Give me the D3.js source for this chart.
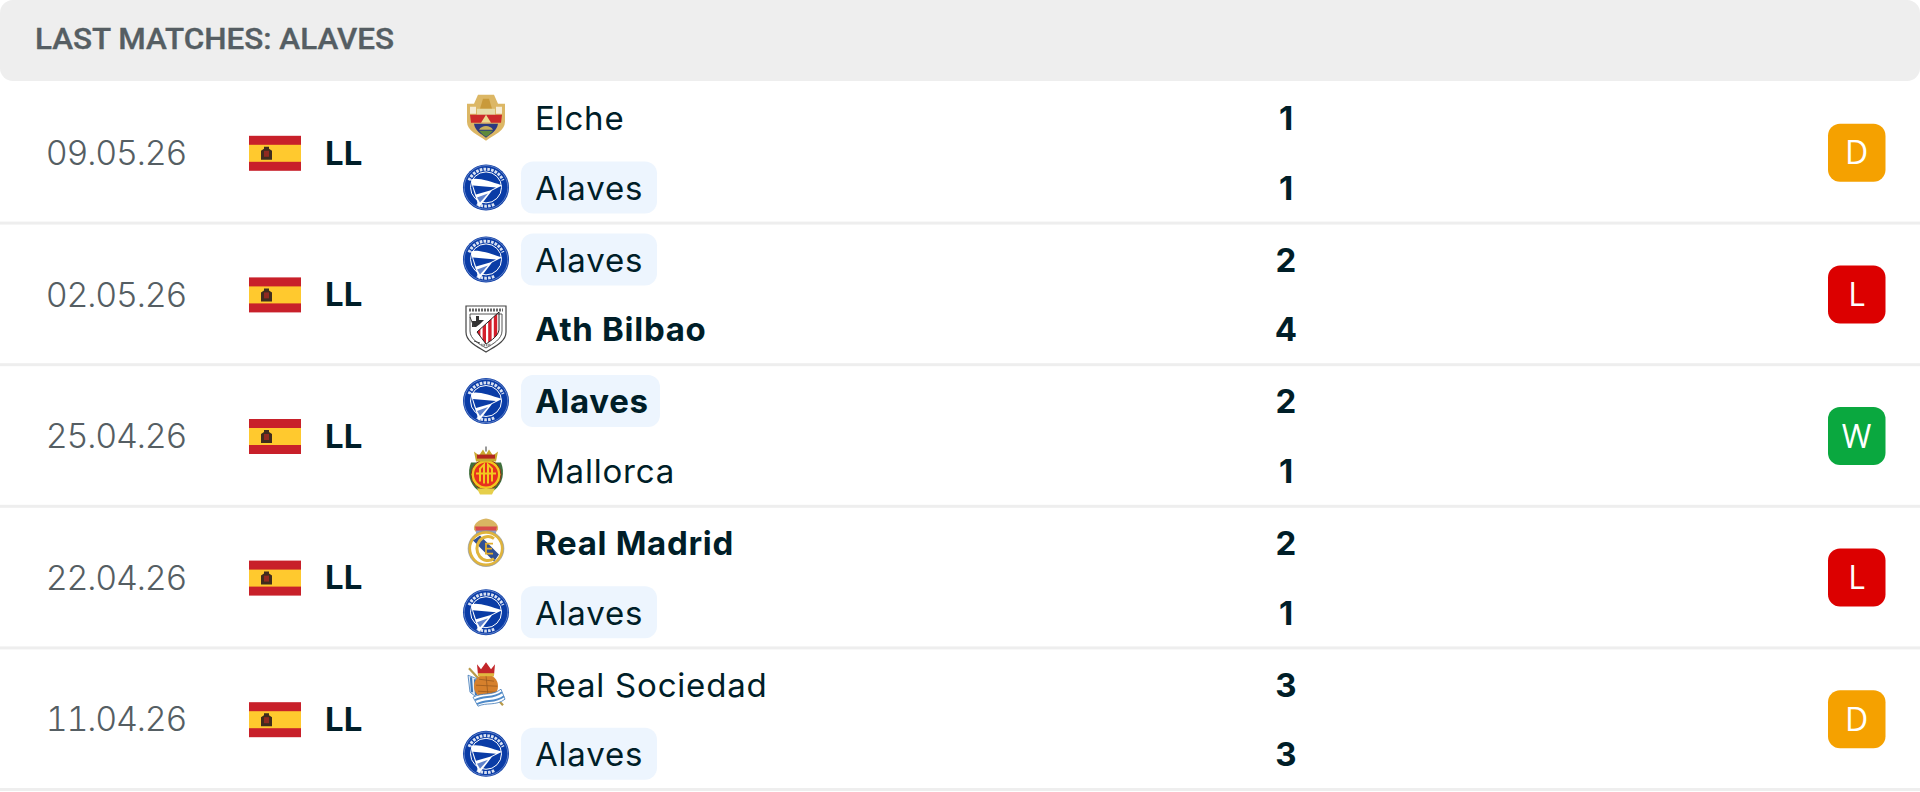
<!DOCTYPE html>
<html>
<head>
<meta charset="utf-8">
<script src="https://cdn.jsdelivr.net/npm/d3@7"></script>
<style>
  html, body { margin: 0; padding: 0; background: #fff; }
  svg { display: block; }
  text { font-family: Inter, sans-serif; }
</style>
</head>
<body>
<div id="chart"></div>
<script>
const title = "LAST MATCHES: ALAVES";
const dates = ["09.05.26", "02.05.26", "25.04.26", "22.04.26", "11.04.26"];
const leagues = ["LL", "LL", "LL", "LL", "LL"];
const homeTeams = ["Elche", "Alaves", "Alaves", "Real Madrid", "Real Sociedad"];
const awayTeams = ["Alaves", "Ath Bilbao", "Mallorca", "Alaves", "Alaves"];
const homeGoals = [1, 2, 2, 2, 3];
const awayGoals = [1, 4, 1, 1, 3];
const results = ["D", "L", "W", "L", "D"];
const focusTeam = "Alaves";

const width = 1920;
const height = 792;
const resultColor = d3.scaleOrdinal(["D", "L", "W"], ["#f5a100", "#dc0000", "#0aa83f"]);
const rowScale = d3.scaleBand().domain(d3.range(dates.length)).range([82, 790]);
const sideScale = d3.scalePoint().domain([0, 1]).range([-35, 34.6]);

const crests = {
  Alaves: drawAlaves,
  Elche: drawElche,
  "Ath Bilbao": drawBilbao,
  Mallorca: drawMallorca,
  "Real Madrid": drawMadrid,
  "Real Sociedad": drawSociedad,
};

const svg = d3
  .select("#chart")
  .append("svg")
  .attr("width", width)
  .attr("height", height)
  .attr("viewBox", [0, 0, width, height]);

// header bar
svg.append("rect").attr("x", 0).attr("y", 0).attr("width", width).attr("height", 81).attr("rx", 13).attr("fill", "#eeeeee");
svg
  .append("text")
  .attr("x", 35)
  .attr("y", 39)
  .attr("dy", "0.36em")
  .attr("fill", "#555e63")
  .attr("stroke", "#555e63")
  .attr("stroke-width", 0.35)
  .attr("font-size", 29)
  .attr("font-weight", 500)
  .attr("textLength", 359)
  .attr("lengthAdjust", "spacingAndGlyphs")
  .style("font-family", "Roboto, sans-serif")
  .text(title);

const rows = svg
  .selectAll("g.row")
  .data(d3.range(dates.length))
  .join("g")
  .attr("class", "row")
  .attr("transform", (i) => `translate(0,${rowScale(i) + rowScale.bandwidth() / 2})`);

rows
  .append("rect")
  .attr("x", 0)
  .attr("y", rowScale.bandwidth() / 2 - 2)
  .attr("width", width)
  .attr("height", 3)
  .attr("fill", "#eeeeee");

rows
  .append("text")
  .attr("x", 116)
  .attr("dy", "0.36em")
  .attr("text-anchor", "middle")
  .attr("fill", "#555e63")
  .attr("font-size", 34)
  .attr("font-weight", 300)
  .attr("letter-spacing", -1.2)
  .style("font-variant-numeric", "tabular-nums")
  .text((i) => dates[i]);

rows.append("g").attr("transform", "translate(249,-17)").each(function () {
  drawSpain(d3.select(this));
});

rows
  .append("text")
  .attr("x", 325)
  .attr("dy", "0.36em")
  .attr("fill", "#001e28")
  .attr("font-size", 33)
  .attr("font-weight", 700)
  .text((i) => leagues[i]);

rows
  .append("g")
  .attr("transform", "translate(1828,-29)")
  .call((g) => g.append("rect").attr("width", 57.5).attr("height", 58).attr("rx", 12).attr("fill", (i) => resultColor(results[i])))
  .call((g) =>
    g
      .append("text")
      .attr("x", 28.5)
      .attr("y", 29)
      .attr("dy", "0.36em")
      .attr("text-anchor", "middle")
      .attr("fill", "#fff")
      .attr("font-size", 32)
      .style("font-family", "'Open Sans', sans-serif")
      .text((i) => results[i])
  );

// the two team lines of each match
const lines = rows
  .selectAll("g.team")
  .data((i) => [
    { team: homeTeams[i], goals: homeGoals[i], rival: awayGoals[i], side: 0 },
    { team: awayTeams[i], goals: awayGoals[i], rival: homeGoals[i], side: 1 },
  ])
  .join("g")
  .attr("class", "team")
  .attr("transform", (d) => `translate(0,${sideScale(d.side)})`);

lines.each(function (d) {
  const g = d3.select(this);
  const bold = d.goals > d.rival;
  if (d.team === focusTeam) {
    g.append("rect")
      .attr("x", 521)
      .attr("y", -26)
      .attr("width", bold ? 139 : 136)
      .attr("height", 52)
      .attr("rx", 12)
      .attr("fill", "#edf5fe");
  }
  crests[d.team](g.append("g").attr("transform", "translate(486,0)"));
  g.append("text")
    .attr("x", 535)
    .attr("y", 0.5)
    .attr("dy", "0.36em")
    .attr("fill", "#001e28")
    .attr("font-size", 33)
    .attr("font-weight", bold ? 700 : 400)
    .attr("letter-spacing", bold ? 0.7 : 0.8)
    .text(d.team);
  g.append("text")
    .attr("x", 1286)
    .attr("y", 0.5)
    .attr("dy", "0.36em")
    .attr("text-anchor", "middle")
    .attr("fill", "#001e28")
    .attr("font-size", 33)
    .attr("font-weight", 700)
    .text(d.goals);
});

function drawSpain(g) {
  g.append("rect").attr("width", 52).attr("height", 35).attr("fill", "#c8202a");
  g.append("rect").attr("y", 9).attr("width", 52).attr("height", 17).attr("fill", "#ffc92e");
  g.append("path").attr("d", "M12,15 L15,13 L15,11 L20,11 L20,13 L23,15 L23,24 L12,24 Z").attr("fill", "#3f2c1e");
  g.append("rect").attr("x", 15).attr("y", 15).attr("width", 5).attr("height", 6).attr("fill", "#8f2a20");
}

function drawAlaves(g) {
  g.append("circle").attr("r", 23).attr("fill", "#0a3ca6");
  g.append("circle").attr("r", 21.8).attr("fill", "none").attr("stroke", "#aebfe6").attr("stroke-width", 0.5);
  g.append("circle").attr("r", 15.5).attr("fill", "#0a3ca6").attr("stroke", "#fff").attr("stroke-width", 1);
  g.append("path").attr("d", "M-15,-8 C-8,-10 4,-6 16,-2 L6,3 L-7,20 C-10,10 -14,0 -15,-8 Z").attr("fill", "#fff");
  g.append("path").attr("d", "M-13,-2 L10,0 L4,3 L-10,7 Z").attr("fill", "#0a3ca6");
  g.append("path").attr("d", "M-9,10 L2,6 L-6,15 Z").attr("fill", "#5f82cc");
  g.append("path").attr("d", "M-17,-7 A18.5,18.5 0 0 1 17,-7").attr("fill", "none").attr("stroke", "#fff").attr("stroke-width", 3).attr("stroke-dasharray", "2.6 1.2").attr("opacity", 0.85);
  g.append("path").attr("d", "M-9,16.5 A19,19 0 0 0 9,16.5").attr("fill", "none").attr("stroke", "#fff").attr("stroke-width", 3).attr("stroke-dasharray", "2.6 1.2").attr("opacity", 0.85);
}

function drawElche(g) {
  g.append("path").attr("d", "M-8,-23 L8,-23 L12,-14 L19,-14 L19,4 C19,13 8,17 0,23 C-8,17 -19,13 -19,4 L-19,-14 L-12,-14 Z").attr("fill", "#dcb765");
  g.append("path").attr("d", "M-16,-11 L-10,-11 L-10,-4 L-16,-4 Z M10,-11 L16,-11 L16,-4 L10,-4 Z").attr("fill", "#f6ecd4");
  g.append("path").attr("d", "M-6,-9 L-3,-19 L3,-19 L6,-9 Z").attr("fill", "#c99a3a");
  g.append("rect").attr("x", -9).attr("y", -9).attr("width", 18).attr("height", 6).attr("fill", "#e6dca8");
  g.append("path").attr("d", "M-16,-3 L16,-3 L15,5 L-15,5 Z").attr("fill", "#cc2a2a");
  g.append("path").attr("d", "M-5,5 L0,-3 L5,5 Z").attr("fill", "#ecd98c");
  g.append("path").attr("d", "M-12,6 L12,6 C11,13 5,16 0,20 C-5,16 -11,13 -12,6 Z").attr("fill", "#2c3a80");
  g.append("path").attr("d", "M-7,12 C-4,7 4,7 7,12 Z").attr("fill", "#c9b05a");
  g.append("path").attr("d", "M-7,13 L7,13 L3,17 L0,19 L-3,17 Z").attr("fill", "#5f8a3a");
}

function drawBilbao(g) {
  g.append("clipPath")
    .attr("id", "bilbaoField")
    .append("path")
    .attr("d", "M-9,3 L13,-17 L13,1 C12,7 6,11 0,15 Z");
  g.append("path").attr("d", "M-20,-23 L20,-23 L20,3 C20,13 8,18 0,23 C-8,18 -20,13 -20,3 Z").attr("fill", "#fff").attr("stroke", "#444").attr("stroke-width", 1.2);
  g.append("path").attr("d", "M-16,-15 L16,-15 L16,2 C16,10 7,15 0,19 C-7,15 -16,10 -16,2 Z").attr("fill", "#fff").attr("stroke", "#444").attr("stroke-width", 0.9);
  g.append("path").attr("d", "M-17,-19 L17,-19").attr("stroke", "#666").attr("stroke-width", 3).attr("stroke-dasharray", "2 1");
  g.selectAll("rect.stripe")
    .data([0, 1, 2, 3])
    .join("rect")
    .attr("class", "stripe")
    .attr("clip-path", "url(#bilbaoField)")
    .attr("x", (k) => -9 + k * 5.6)
    .attr("y", -18)
    .attr("width", 3.4)
    .attr("height", 36)
    .attr("fill", "#d41f2b");
  g.append("path").attr("d", "M-9,3 L13,-17 L13,1 C12,7 6,11 0,15 Z").attr("fill", "none").attr("stroke", "#222").attr("stroke-width", 1);
  g.append("path").attr("d", "M-14,-2 L-14,-8 L-10,-8 L-10,-13 L-7,-13 L-7,-9 L-2,-9 L-6,-5 L-10,-2 Z").attr("fill", "#333");
  g.append("path").attr("d", "M-16,-12 L-12,-2 M-12,12 L-6,14").attr("stroke", "#444").attr("stroke-width", 1);
  g.append("path").attr("d", "M-5,16 L5,16").attr("stroke", "#888").attr("stroke-width", 2.6).attr("stroke-dasharray", "1.6 0.8");
}

function drawMallorca(g) {
  g.append("path").attr("d", "M-15,-8 C-19,2 -17,13 -8,20 L8,20 C17,13 19,2 15,-8 Z").attr("fill", "#3f6f3c");
  g.append("circle").attr("cy", 4).attr("r", 15).attr("fill", "#f2c81e").attr("stroke", "#8a2b1c").attr("stroke-width", 1);
  g.append("circle").attr("cy", 4).attr("r", 12).attr("fill", "#e8301e");
  g.append("path").attr("d", "M-6,11 L-6,-2 L-2,-6 L-2,13 M2,13 L2,-6 L6,-2 L6,11 M-10,3 L10,3").attr("fill", "none").attr("stroke", "#f2c81e").attr("stroke-width", 2);
  g.append("path").attr("d", "M-12,-19 L-7,-15 L-3,-21 L0,-16 L3,-21 L7,-15 L12,-19 L10,-9 L-10,-9 Z").attr("fill", "#c9a72e");
  g.append("rect").attr("x", -9).attr("y", -16).attr("width", 18).attr("height", 4).attr("fill", "#b3261e");
  g.append("path").attr("d", "M0,-24 L0,-19").attr("stroke", "#777").attr("stroke-width", 1.5);
  g.append("path").attr("d", "M-9,18 L9,18 L6,24 L-6,24 Z").attr("fill", "#e6cf4a");
}

function drawMadrid(g) {
  g.append("path").attr("d", "M-12,-13 C-13,-19 -7,-23 0,-24 C7,-23 13,-19 12,-13 L9,-9 L-9,-9 Z").attr("fill", "#d9b562");
  g.append("path").attr("d", "M-11,-16 L11,-16 L10,-11 L-10,-11 Z").attr("fill", "#d84a4a");
  g.append("rect").attr("x", -10).attr("y", -12).attr("width", 20).attr("height", 3).attr("fill", "#8fa3c9");
  g.append("circle").attr("cy", 6).attr("r", 16.4).attr("fill", "#fff").attr("stroke", "#e0b43c").attr("stroke-width", 3);
  g.append("circle").attr("cy", 6).attr("r", 17.9).attr("fill", "none").attr("stroke", "#7f8fa8").attr("stroke-width", 0.6);
  g.append("path").attr("d", "M-13,-2 L-6,-7 L13,12 L8,19 Z").attr("fill", "#2f4f95");
  g.append("path").attr("d", "M8,-4 A11,12 0 1 0 8,16").attr("fill", "none").attr("stroke", "#e0b43c").attr("stroke-width", 3);
  g.append("path").attr("d", "M-1,1 L7,1 M-1,6 L6,6 M-1,11 L7,11 M0,1 L0,11").attr("stroke", "#e0ac2e").attr("stroke-width", 1.8);
}

function drawSociedad(g) {
  g.append("path").attr("d", "M-17,-16 L17,21").attr("stroke", "#b89a4a").attr("stroke-width", 2.2);
  g.append("path").attr("d", "M-18,-9 L-8,-5 L-7,15 L-16,8 Z").attr("fill", "#e6eef7").attr("stroke", "#3f78b8").attr("stroke-width", 0.8);
  g.append("path").attr("d", "M-15,-7 L-14,8 M-11,-5 L-10,11").attr("stroke", "#3f78b8").attr("stroke-width", 2.2);
  g.append("circle").attr("cy", 2).attr("r", 12).attr("fill", "#d6802c");
  g.append("path").attr("d", "M-7,-5 L8,-3 M-10,1 L11,2 M-8,7 L9,8 M0,-9 L2,12").attr("stroke", "#9a5a1e").attr("stroke-width", 0.8);
  g.append("path").attr("d", "M-9,-20 L-5,-15 L0,-22 L5,-15 L9,-20 L8,-9 L-8,-9 Z").attr("fill", "#c3262a");
  g.append("rect").attr("x", -8).attr("y", -11).attr("width", 16).attr("height", 3).attr("fill", "#e0b840");
  g.append("path").attr("d", "M-13,13 C-4,8 6,12 15,5 L19,15 C10,22 0,18 -8,22 Z").attr("fill", "#fff").attr("stroke", "#3f78b8").attr("stroke-width", 0.8);
  g.append("path").attr("d", "M-11,16 C-2,11 7,15 16,8 M-9,20 C0,15 9,19 18,12").attr("fill", "none").attr("stroke", "#4f8ac8").attr("stroke-width", 2);
}
</script>
</body>
</html>
